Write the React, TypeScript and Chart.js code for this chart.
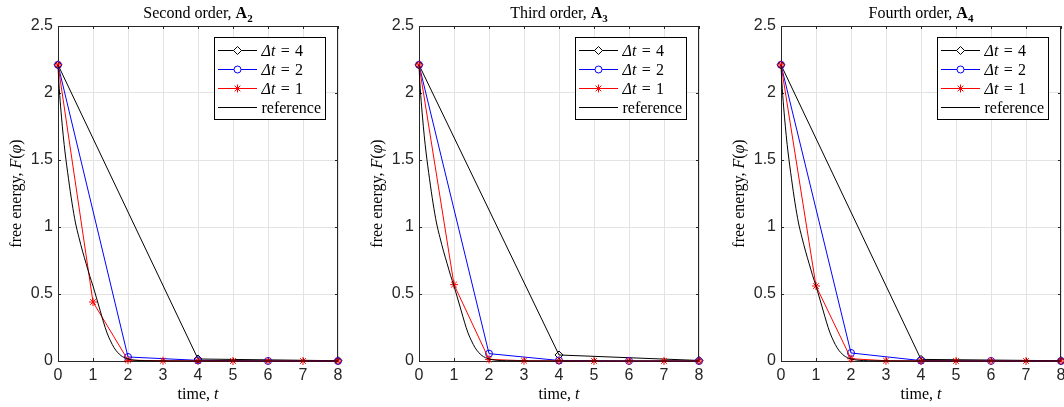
import React, { useEffect, useRef } from 'react';
import { Chart, registerables } from 'chart.js';

Chart.register(...registerables);

// ---------------- data ----------------
const X_TICKS = [0, 1, 2, 3, 4, 5, 6, 7, 8];
const Y_TICKS = [0, 0.5, 1, 1.5, 2, 2.5];

const TIMES_DT4 = [0, 4, 8];
const TIMES_DT2 = [0, 2, 4, 6, 8];
const TIMES_DT1 = [0, 1, 2, 3, 4, 5, 6, 7, 8];

const REF_T = [0, 0.02, 0.05, 0.1, 0.15, 0.2, 0.3, 0.4, 0.5, 0.6, 0.7, 0.8, 0.9, 1.0, 1.1, 1.2, 1.3, 1.4, 1.5, 1.6, 1.7, 1.8, 1.9, 2.0, 2.2, 2.5, 3, 4, 8];
const REF_F = [2.21, 2.1, 1.98, 1.82, 1.68, 1.56, 1.36, 1.18, 1.03, 0.92, 0.82, 0.73, 0.64, 0.56, 0.47, 0.38, 0.29, 0.21, 0.15, 0.1, 0.065, 0.04, 0.025, 0.015, 0.006, 0.002, 0.0005, 0, 0];

// Second order
const A2_DT4 = [2.21, 0.015, 0.002];
const A2_DT2 = [2.21, 0.03, 0.005, 0.0005, 0];
const A2_DT1 = [2.21, 0.44, 0.006, 0.002, 0.001, 0, 0, 0, 0];
// Third order
const A3_DT4 = [2.21, 0.045, 0.004];
const A3_DT2 = [2.21, 0.055, 0.004, 0.0005, 0];
const A3_DT1 = [2.21, 0.57, 0.012, 0.002, 0.001, 0, 0, 0, 0];
// Fourth order
const A4_DT4 = [2.21, 0.012, 0.002];
const A4_DT2 = [2.21, 0.06, 0.003, 0.0005, 0];
const A4_DT1 = [2.21, 0.56, 0.017, 0.002, 0.001, 0, 0, 0, 0];

const TITLE_PREFIXES = ['Second order, ', 'Third order, ', 'Fourth order, '];
const TITLE_SUBS = ['2', '3', '4'];
const LEGEND_DTS = ['4', '2', '1'];
const REF_LABEL = 'reference';
const X_LABEL = 'time, ';
const X_LABEL_VAR = 't';
const Y_LABEL = 'free energy, ';

// ---------------- styling ----------------
const SERIF = '"Liberation Serif", "Times New Roman", serif';
const SANS = '"Liberation Sans", Arial, Helvetica, sans-serif';
const AXIS = '#262626';
const GRID = '#e3e3e3';
const BLACK = '#000000';
const BLUE = '#0000ff';
const RED = '#ff0000';

type Run = { t: string; i?: boolean; b?: boolean; sub?: boolean };

function fontFor(r: Run, size: number) {
  const s = r.sub ? Math.round(size * 0.7) : size;
  return `${r.i ? 'italic ' : ''}${r.b ? 'bold ' : ''}${s}px ${SERIF}`;
}
function richWidth(ctx: CanvasRenderingContext2D, runs: Run[], size: number) {
  let w = 0;
  for (const r of runs) {
    ctx.font = fontFor(r, size);
    w += ctx.measureText(r.t).width;
  }
  return w;
}
function drawRich(ctx: CanvasRenderingContext2D, runs: Run[], x: number, y: number, size: number, align: 'left' | 'center') {
  const w = richWidth(ctx, runs, size);
  let cx = align === 'center' ? x - w / 2 : x;
  ctx.textAlign = 'left';
  ctx.textBaseline = 'alphabetic';
  for (const r of runs) {
    ctx.font = fontFor(r, size);
    ctx.fillText(r.t, cx, y + (r.sub ? size * 0.25 : 0));
    cx += ctx.measureText(r.t).width;
  }
}

function drawMarker(ctx: CanvasRenderingContext2D, kind: string, x: number, y: number, color: string) {
  ctx.save();
  ctx.strokeStyle = color;
  ctx.lineWidth = 1;
  ctx.beginPath();
  if (kind === 'diamond') {
    const r = 4;
    ctx.moveTo(x - r, y);
    ctx.lineTo(x, y - r);
    ctx.lineTo(x + r, y);
    ctx.lineTo(x, y + r);
    ctx.closePath();
    ctx.fillStyle = '#ffffff';
    ctx.fill();
  } else if (kind === 'circle') {
    ctx.arc(x, y, 3.5, 0, Math.PI * 2);
    ctx.fillStyle = '#ffffff';
    ctx.fill();
  } else if (kind === 'star') {
    const r = 4;
    const d = r * Math.SQRT1_2;
    ctx.moveTo(x - r, y); ctx.lineTo(x + r, y);
    ctx.moveTo(x, y - r); ctx.lineTo(x, y + r);
    ctx.moveTo(x - d, y - d); ctx.lineTo(x + d, y + d);
    ctx.moveTo(x - d, y + d); ctx.lineTo(x + d, y - d);
  }
  ctx.stroke();
  ctx.restore();
}

const decoPlugin = {
  id: 'deco',
  beforeDatasetsDraw(chart: any) {
    const ctx: CanvasRenderingContext2D = chart.ctx;
    const ca = chart.chartArea;
    const xs = chart.scales.x;
    const ys = chart.scales.y;
    ctx.save();
    ctx.strokeStyle = AXIS;
    ctx.lineWidth = 1;
    ctx.beginPath();
    const top = Math.round(ca.top) + 0.5;
    const right = Math.round(ca.right) - 0.5;
    ctx.moveTo(Math.round(ca.left), top);
    ctx.lineTo(Math.round(ca.right), top);
    ctx.moveTo(right, Math.round(ca.top));
    ctx.lineTo(right, Math.round(ca.bottom));
    const tl = 3;
    for (const v of X_TICKS) {
      const px = Math.round(xs.getPixelForValue(v)) + 0.5;
      ctx.moveTo(px, ca.bottom);
      ctx.lineTo(px, ca.bottom - tl);
      ctx.moveTo(px, ca.top);
      ctx.lineTo(px, ca.top + tl);
    }
    for (const v of Y_TICKS) {
      const py = Math.round(ys.getPixelForValue(v)) + 0.5;
      ctx.moveTo(ca.left, py);
      ctx.lineTo(ca.left + tl, py);
      ctx.moveTo(ca.right, py);
      ctx.lineTo(ca.right - tl, py);
    }
    ctx.stroke();
    ctx.restore();
  },
  afterDraw(chart: any, _args: any, opts: any) {
    const ctx: CanvasRenderingContext2D = chart.ctx;
    const ca = chart.chartArea;
    const size = 16;
    ctx.save();
    ctx.fillStyle = '#000';
    drawRich(ctx, opts.title, (ca.left + ca.right) / 2, 18, size, 'center');
    drawRich(ctx, [{ t: X_LABEL }, { t: X_LABEL_VAR, i: true }], (ca.left + ca.right) / 2, 399, size, 'center');
    ctx.save();
    ctx.translate(20.5, (ca.top + ca.bottom) / 2);
    ctx.rotate(-Math.PI / 2);
    drawRich(ctx, [{ t: Y_LABEL }, { t: 'F', i: true }, { t: '(' }, { t: 'φ', i: true }, { t: ')' }], 0, 0, size, 'center');
    ctx.restore();

    const boxRight = Math.round(ca.right) - 13;
    const boxLeft = boxRight - 111;
    const boxTop = Math.round(ca.top) + 11;
    const boxH = 82;
    ctx.fillStyle = '#ffffff';
    ctx.fillRect(boxLeft, boxTop, boxRight - boxLeft, boxH);
    ctx.strokeStyle = '#000';
    ctx.lineWidth = 1;
    ctx.strokeRect(boxLeft + 0.5, boxTop + 0.5, boxRight - boxLeft, boxH);
    const entries = opts.legend as { runs: Run[]; color: string; marker: string | null }[];
    entries.forEach((e, k) => {
      const ry = Math.round(boxTop + 13 + k * 19) + 0.5;
      ctx.strokeStyle = e.color;
      ctx.beginPath();
      ctx.moveTo(boxLeft + 4, ry);
      ctx.lineTo(boxLeft + 43, ry);
      ctx.stroke();
      if (e.marker) drawMarker(ctx, e.marker, boxLeft + 23.5, ry, e.color);
      ctx.fillStyle = '#000';
      drawRich(ctx, e.runs, boxLeft + 47.5, ry + 5, size, 'left');
    });
    ctx.restore();
  },
};

function pts(ts: number[], vs: number[]) {
  return ts.map((t, i) => ({ x: t, y: vs[i] }));
}

type PanelProps = { index: number; dt4: number[]; dt2: number[]; dt1: number[] };

function dtRuns(v: string): Run[] {
  return [{ t: 'Δ', i: true }, { t: 't', i: true }, { t: '\u2004=\u2004' + v }];
}

function Panel({ index, dt4, dt2, dt1 }: PanelProps) {
  const ref = useRef<HTMLCanvasElement | null>(null);
  useEffect(() => {
    if (!ref.current) return;
    const legend = [
      { runs: dtRuns(LEGEND_DTS[0]), color: BLACK, marker: 'diamond' },
      { runs: dtRuns(LEGEND_DTS[1]), color: BLUE, marker: 'circle' },
      { runs: dtRuns(LEGEND_DTS[2]), color: RED, marker: 'star' },
      { runs: [{ t: REF_LABEL }], color: BLACK, marker: null },
    ];
    const title: Run[] = [{ t: TITLE_PREFIXES[index] }, { t: 'A', b: true }, { t: TITLE_SUBS[index], b: true, sub: true }];
    const chart = new Chart(ref.current, {
      type: 'line',
      data: {
        datasets: [
          {
            data: pts(REF_T, REF_F),
            borderColor: BLACK,
            borderWidth: 1,
            pointRadius: 0,
            cubicInterpolationMode: 'monotone',
            clip: false as any,
          },
          {
            data: pts(TIMES_DT1, dt1),
            borderColor: RED,
            borderWidth: 1,
            pointStyle: 'star',
            pointRadius: 4,
            pointBorderColor: RED,
            pointBorderWidth: 1,
            pointBackgroundColor: 'rgba(0,0,0,0)',
            clip: false as any,
          },
          {
            data: pts(TIMES_DT2, dt2),
            borderColor: BLUE,
            borderWidth: 1,
            pointStyle: 'circle',
            pointRadius: 3.5,
            pointBorderColor: BLUE,
            pointBorderWidth: 1,
            pointBackgroundColor: 'rgba(0,0,0,0)',
            clip: false as any,
          },
          {
            data: pts(TIMES_DT4, dt4),
            borderColor: BLACK,
            borderWidth: 1,
            pointStyle: 'rectRot',
            pointRadius: 4,
            pointBorderColor: BLACK,
            pointBorderWidth: 1,
            pointBackgroundColor: 'rgba(0,0,0,0)',
            clip: false as any,
          },
        ],
      },
      options: {
        responsive: false,
        animation: false,
        events: [],
        layout: { padding: { left: 0, right: 10, top: 26, bottom: 0 } },
        plugins: {
          legend: { display: false },
          title: { display: false },
          tooltip: { enabled: false },
          deco: { title, legend },
        } as any,
        scales: {
          x: {
            type: 'linear',
            min: 0,
            max: 8,
            afterBuildTicks: (s: any) => {
              s.ticks = X_TICKS.map((v) => ({ value: v }));
            },
            afterFit: (s: any) => {
              s.height = 46;
            },
            grid: { color: GRID, lineWidth: 1, drawTicks: false },
            border: { display: true, color: AXIS, width: 1 },
            ticks: {
              autoSkip: false,
              maxRotation: 0,
              padding: 5,
              color: AXIS,
              font: { family: SANS, size: 16 },
              callback: (v: any) => String(v),
            },
          },
          y: {
            type: 'linear',
            min: 0,
            max: 2.5,
            afterBuildTicks: (s: any) => {
              s.ticks = Y_TICKS.map((v) => ({ value: v }));
            },
            afterFit: (s: any) => {
              s.width = 58;
            },
            grid: { color: GRID, lineWidth: 1, drawTicks: false },
            border: { display: true, color: AXIS, width: 1 },
            ticks: {
              autoSkip: false,
              padding: 5,
              color: AXIS,
              font: { family: SANS, size: 16 },
              callback: (v: any) => String(v),
            },
          },
        },
      } as any,
      plugins: [decoPlugin],
    });
    return () => chart.destroy();
  }, [index, dt4, dt2, dt1]);
  const lefts = [0, 361, 723];
  return (
    <canvas
      ref={ref}
      width={348}
      height={407}
      style={{ position: 'absolute', left: lefts[index], top: 0, width: 348, height: 407 }}
    />
  );
}

export default function App() {
  return (
    <div
      style={{
        position: 'absolute',
        left: 0,
        top: 0,
        width: 1064,
        height: 407,
        overflow: 'hidden',
        background: '#ffffff',
      }}
    >
      <Panel index={0} dt4={A2_DT4} dt2={A2_DT2} dt1={A2_DT1} />
      <Panel index={1} dt4={A3_DT4} dt2={A3_DT2} dt1={A3_DT1} />
      <Panel index={2} dt4={A4_DT4} dt2={A4_DT2} dt1={A4_DT1} />
    </div>
  );
}
